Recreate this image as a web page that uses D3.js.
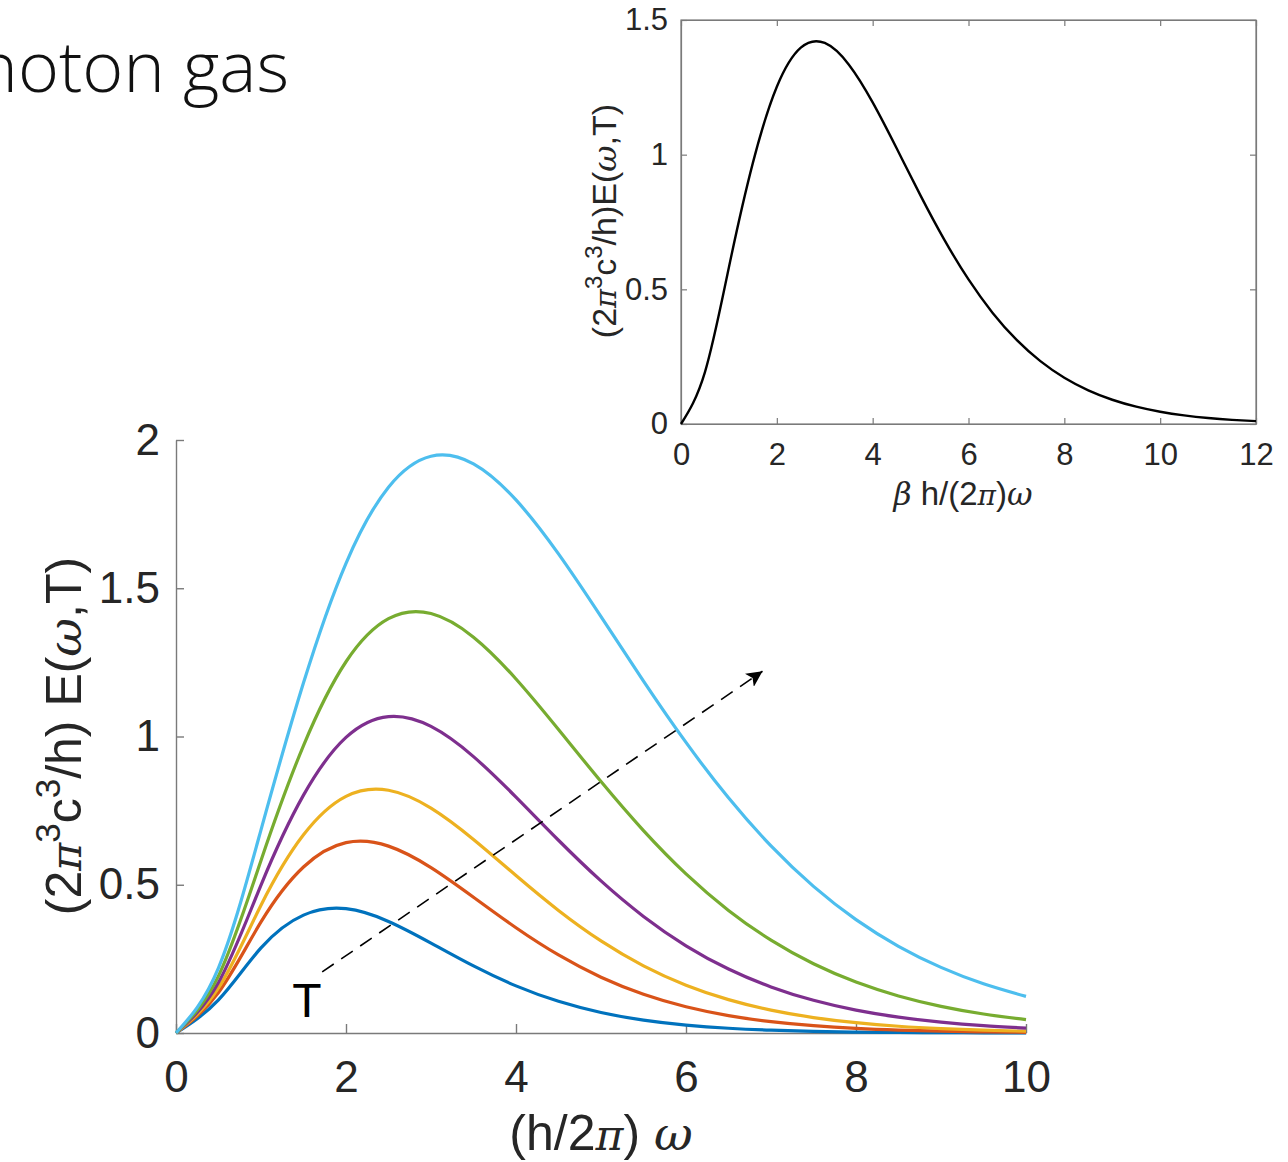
<!DOCTYPE html>
<html><head><meta charset="utf-8">
<script src="https://cdn.jsdelivr.net/npm/d3@7"></script>
<style>body{margin:0;background:#fff;overflow:hidden} svg{display:block}</style>
</head><body>
<svg id="c" width="1288" height="1162"></svg>
<script>
// ---------- data ----------
const omega = [0,0.5,1,1.5,2,2.5,3,3.5,4,4.5,5,5.5,6,6.5,7,7.5,8,8.5,9,9.5,10];
const seriesNames = ["T1","T2","T3","T4","T5","T6"];
const seriesColors = ["#0072BD","#D95319","#EDB120","#7E2F8E","#77AC30","#4DBEEE"];
const sBlue   = [0,0.1119,0.2872,0.3976,0.4192,0.3763,0.3033,0.2262,0.1590,0.1068,0.0692,0.0435,0.0267,0.0160,0.0094,0.0055,0.0031,0.0018,0.0010,0.0006,0.0003];
const sRed    = [0,0.1365,0.3746,0.5598,0.6419,0.6303,0.5578,0.4579,0.3550,0.2632,0.1882,0.1307,0.0885,0.0588,0.0383,0.0246,0.0156,0.0098,0.0060,0.0037,0.0023];
const sYellow = [0,0.1520,0.4310,0.6684,0.7981,0.8187,0.7585,0.6527,0.5311,0.4134,0.3106,0.2266,0.1614,0.1126,0.0772,0.0521,0.0347,0.0228,0.0149,0.0096,0.0061];
const sPurple = [0,0.1705,0.4990,0.8022,0.9969,1.0671,1.0340,0.9322,0.7955,0.6501,0.5129,0.3932,0.2942,0.2157,0.1554,0.1102,0.0772,0.0534,0.0366,0.0248,0.0167];
const sGreen  = [0,0.1927,0.5820,0.9694,1.2521,1.3973,1.4147,1.3350,1.1941,1.0237,0.8480,0.6827,0.5367,0.4135,0.3131,0.2335,0.1718,0.1250,0.0900,0.0642,0.0454];
const sCyan   = [0,0.2200,0.6851,1.1811,1.5843,1.8409,1.9453,1.9195,1.7978,1.6158,1.4042,1.1870,0.9800,0.7932,0.6310,0.4945,0.3825,0.2925,0.2213,0.1660,0.1234];
const mainSeries = [sBlue,sRed,sYellow,sPurple,sGreen,sCyan];
const mainXTicks = [0,2,4,6,8,10];
const mainYTicks = [0,0.5,1,1.5,2];

const insetX = [0,0.5,1,1.5,2,2.5,3,3.5,4,4.5,5,5.5,6,6.5,7,7.5,8,8.5,9,9.5,10,10.5,11,11.5,12];
const insetY = [0,0.1927,0.5820,0.9694,1.2521,1.3973,1.4147,1.3350,1.1941,1.0237,0.8480,0.6827,0.5367,0.4135,0.3131,0.2335,0.1718,0.1250,0.0900,0.0642,0.0454,0.0319,0.0222,0.0154,0.0106];
const insetXTicks = [0,2,4,6,8,10,12];
const insetYTicks = [0,0.5,1,1.5];

const arrowStart = [1.72, 0.206];
const arrowEnd = [6.9, 1.22];
const arrowLabel = {x:1.54, y:0.054, text:"T"};

// ---------- drawing ----------
const svg = d3.select("#c");
const FONT = "'Liberation Sans', Arial, Helvetica, sans-serif";
const GREEK = "'DejaVu Serif', 'Liberation Serif', serif";
const AX = "#7a7a7a", TXT = "#262626";

svg.append("defs").append("marker")
  .attr("id","ah").attr("viewBox","0 0 10 10").attr("refX",10).attr("refY",5)
  .attr("markerWidth",16).attr("markerHeight",16).attr("markerUnits","userSpaceOnUse")
  .attr("orient","auto")
  .append("path").attr("d","M0,0 L10,5 L0,10 L2.5,5 Z").attr("fill","#000");

function rich(sel, segs, size){
  let cur = 0;
  segs.forEach(s=>{
    const target = s.sup ? -0.42*size : 0;
    const ts = sel.append("tspan").attr("dy", target-cur).text(s.t);
    cur = target;
    if (s.sup) ts.attr("font-size", size*0.7);
    if (s.g) ts.attr("font-family", GREEK).attr("font-style","italic").attr("font-size", size*(s.gs||0.85));
  });
}

// title
svg.append("text").attr("x",289).attr("y",92).attr("text-anchor","end")
  .attr("font-family","'Open Sans', sans-serif").attr("font-weight",300)
  .attr("font-size",70).attr("fill","#111").text("Photon gas");

// main plot
const mx = d3.scaleLinear().domain([0,10]).range([176,1026]);
const my = d3.scaleLinear().domain([0,2]).range([1033,440]);
const gm = svg.append("g");

const xAx = gm.append("g").attr("transform","translate(0,1033)")
  .call(d3.axisBottom(mx).tickValues(mainXTicks).tickFormat(d3.format("d")).tickSizeInner(-9).tickSizeOuter(0).tickPadding(28));
const yAx = gm.append("g").attr("transform","translate(176,0)")
  .call(d3.axisLeft(my).tickValues(mainYTicks).tickFormat(d=>String(d)).tickSizeInner(-8).tickSizeOuter(0).tickPadding(16));
[xAx,yAx].forEach(a=>{
  a.selectAll("path,line").attr("stroke",AX).attr("stroke-width",1.4);
  a.selectAll("text").attr("font-family",FONT).attr("font-size",44).attr("fill",TXT);
});

const lineM = d3.line().x((d,i)=>mx(omega[i])).y(d=>my(d)).curve(d3.curveNatural);
gm.selectAll("path.s").data(mainSeries).join("path").attr("class","s")
  .attr("d",lineM).attr("fill","none").attr("stroke",(d,i)=>seriesColors[i])
  .attr("stroke-width",3.2).attr("stroke-linejoin","round");

// arrow
gm.append("line").attr("x1",mx(arrowStart[0])).attr("y1",my(arrowStart[1]))
  .attr("x2",mx(arrowEnd[0])).attr("y2",my(arrowEnd[1]))
  .attr("stroke","#000").attr("stroke-width",1.6).attr("stroke-dasharray","14,9")
  .attr("marker-end","url(#ah)");
gm.append("text").attr("x",mx(arrowLabel.x)).attr("y",my(arrowLabel.y)).attr("text-anchor","middle")
  .attr("font-family",FONT).attr("font-size",48).attr("fill","#000").text(arrowLabel.text);

// main axis labels
const xl = gm.append("text").attr("x",601).attr("y",1150).attr("text-anchor","middle")
  .attr("font-family",FONT).attr("font-size",50).attr("fill",TXT);
rich(xl,[{t:"(h/2"},{t:"π",g:1},{t:")  "},{t:"ω",g:1,gs:0.95}],50);
const yl = gm.append("text").attr("transform","translate(81,736) rotate(-90)").attr("text-anchor","middle")
  .attr("font-family",FONT).attr("font-size",50).attr("fill",TXT);
rich(yl,[{t:"(2"},{t:"π",g:1},{t:"3",sup:1},{t:"c"},{t:"3",sup:1},{t:"/h) E("},{t:"ω",g:1,gs:0.95},{t:",T)"}],50);

// inset
const ix = d3.scaleLinear().domain([0,12]).range([681,1256]);
const iy = d3.scaleLinear().domain([0,1.5]).range([424,20]);
const gi = svg.append("g");
gi.append("rect").attr("x",681).attr("y",20).attr("width",575).attr("height",404)
  .attr("fill","none").attr("stroke",AX).attr("stroke-width",1.2);
const ixb = gi.append("g").attr("transform","translate(0,424)")
  .call(d3.axisBottom(ix).tickValues(insetXTicks).tickFormat(d3.format("d")).tickSizeInner(-6).tickSizeOuter(0).tickPadding(19));
const ixt = gi.append("g").attr("transform","translate(0,20)")
  .call(d3.axisTop(ix).tickValues(insetXTicks).tickFormat("").tickSizeInner(-6).tickSizeOuter(0));
const iyl = gi.append("g").attr("transform","translate(681,0)")
  .call(d3.axisLeft(iy).tickValues(insetYTicks).tickFormat(d=>String(d)).tickSizeInner(-6).tickSizeOuter(0).tickPadding(13));
const iyr = gi.append("g").attr("transform","translate(1256,0)")
  .call(d3.axisRight(iy).tickValues(insetYTicks).tickFormat("").tickSizeInner(-6).tickSizeOuter(0));
[ixb,ixt,iyl,iyr].forEach(a=>{
  a.selectAll("path,line").attr("stroke",AX).attr("stroke-width",1.2);
  a.selectAll("text").attr("font-family",FONT).attr("font-size",31).attr("fill",TXT);
});
const lineI = d3.line().x((d,i)=>ix(insetX[i])).y(d=>iy(d)).curve(d3.curveNatural);
gi.append("path").datum(insetY).attr("d",lineI).attr("fill","none").attr("stroke","#000").attr("stroke-width",2.4);

const ixl = gi.append("text").attr("x",963).attr("y",505).attr("text-anchor","middle")
  .attr("font-family",FONT).attr("font-size",33).attr("fill",TXT);
rich(ixl,[{t:"β",g:1,gs:0.95},{t:" h/(2"},{t:"π",g:1},{t:")"},{t:"ω",g:1,gs:0.95}],33);
const iyt = gi.append("text").attr("transform","translate(616,221) rotate(-90)").attr("text-anchor","middle")
  .attr("font-family",FONT).attr("font-size",34).attr("fill",TXT);
rich(iyt,[{t:"(2"},{t:"π",g:1},{t:"3",sup:1},{t:"c"},{t:"3",sup:1},{t:"/h)E("},{t:"ω",g:1,gs:0.95},{t:",T)"}],34);
</script></body></html>
